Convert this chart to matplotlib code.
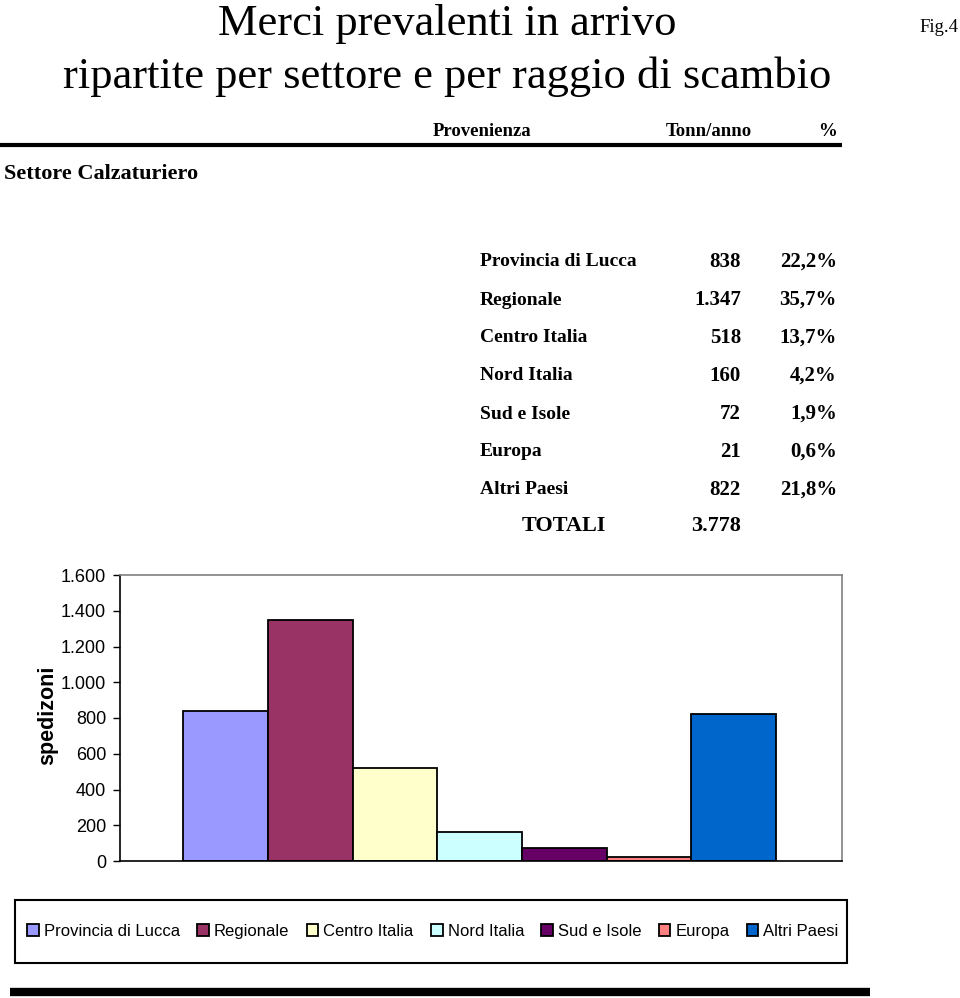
import matplotlib.pyplot as plt
from matplotlib.lines import Line2D
from matplotlib.patches import Rectangle
from matplotlib.ticker import FuncFormatter

# data
categories = ["Provincia di Lucca", "Regionale", "Centro Italia", "Nord Italia",
              "Sud e Isole", "Europa", "Altri Paesi"]
tonn = [838, 1347, 518, 160, 72, 21, 822]
tonn_labels = ["838", "1.347", "518", "160", "72", "21", "822"]
perc_labels = ["22,2%", "35,7%", "13,7%", "4,2%", "1,9%", "0,6%", "21,8%"]
total_label = "3.778"
y_ticks = [0, 200, 400, 600, 800, 1000, 1200, 1400, 1600]
colors = ["#9999FF", "#993366", "#FFFFCC", "#CCFFFF", "#660066", "#FF8080", "#0066CC"]

W, H = 960, 998
serif = "Liberation Serif"
sans = "Liberation Sans"


def fx(x):
    return x / W


def fy(y):
    return 1 - y / H


fig = plt.figure(figsize=(W / 100, H / 100), dpi=100)

# titles
fig.text(fx(447), fy(35), "Merci prevalenti in arrivo", family=serif, fontsize=32,
         ha="center", va="baseline")
fig.text(fx(447), fy(88), "ripartite per settore e per raggio di scambio", family=serif,
         fontsize=32, ha="center", va="baseline")
fig.text(fx(958), fy(28), "Fig.4", family=serif, fontsize=13.5, ha="right", va="center")

# header
fig.text(fx(482), fy(131), "Provenienza", family=serif, weight="bold", fontsize=13.5,
         ha="center", va="center")
fig.text(fx(709), fy(131), "Tonn/anno", family=serif, weight="bold", fontsize=13.5,
         ha="center", va="center")
fig.text(fx(837), fy(131), "%", family=serif, weight="bold", fontsize=13.5,
         ha="right", va="center")
fig.add_artist(Line2D([0, fx(842)], [fy(145), fy(145)], color="black", lw=3,
                      solid_capstyle="butt"))
fig.text(fx(4), fy(174), "Settore Calzaturiero", family=serif, weight="bold",
         fontsize=16, ha="left", va="center")

# table
row_y = [262, 300, 338, 376, 414, 452, 490]
for name, t, p, y in zip(categories, tonn_labels, perc_labels, row_y):
    fig.text(fx(480), fy(y), name, family=serif, weight="bold", fontsize=14,
             ha="left", va="center")
    fig.text(fx(741), fy(y), t, family=serif, weight="bold", fontsize=15,
             ha="right", va="center")
    fig.text(fx(837), fy(y), p, family=serif, weight="bold", fontsize=15,
             ha="right", va="center")
fig.text(fx(564), fy(526), "TOTALI", family=serif, weight="bold", fontsize=16,
         ha="center", va="center")
fig.text(fx(741), fy(526), total_label, family=serif, weight="bold", fontsize=16,
         ha="right", va="center")

# bar chart
ax = fig.add_axes([fx(120), fy(861), (842 - 120) / W, (861 - 575) / H])
for i, (name, val, col) in enumerate(zip(categories, tonn, colors)):
    ax.bar(i, val, width=1, color=col, edgecolor="black", linewidth=1.3, label=name)

ax.set_xlim(-1.25, 7.28)
ax.set_ylim(0, 1600)
ax.set_yticks(y_ticks)
ax.yaxis.set_major_formatter(FuncFormatter(lambda v, _: f"{int(v):,}".replace(",", ".")))
ax.set_xticks([])
ax.tick_params(axis="y", length=5, width=1, direction="out", pad=5)
for lab in ax.get_yticklabels():
    lab.set_family(sans)
    lab.set_fontsize(13)
for side in ["left", "bottom"]:
    ax.spines[side].set_color("black")
    ax.spines[side].set_linewidth(1.2)
for side in ["top", "right"]:
    ax.spines[side].set_color("#808080")
    ax.spines[side].set_linewidth(1.2)
fig.text(fx(48), fy(715), "spedizoni", family=sans, weight="bold", fontsize=15.5,
         rotation=90, ha="center", va="center")

# legend (frame drawn separately so it can be taller than the entries)
fig.add_artist(Rectangle((fx(15), fy(963)), (847 - 15) / W, (963 - 900) / H,
                         transform=fig.transFigure, facecolor="white",
                         edgecolor="black", linewidth=1.5, zorder=1))
handles, labels = ax.get_legend_handles_labels()
leg = fig.legend(handles, labels, loc="center", ncol=7, mode="expand",
                 bbox_to_anchor=(fx(24), fy(963), (842 - 24) / W, (963 - 900) / H),
                 borderaxespad=0, borderpad=0.2, frameon=False,
                 handlelength=0.7, handleheight=0.7, handletextpad=0.3,
                 columnspacing=1.0, prop={"family": sans, "size": 12})
leg.set_zorder(2)

# bottom rule
fig.add_artist(Line2D([fx(10), fx(870)], [fy(992), fy(992)], color="black", lw=6,
                      solid_capstyle="butt"))

fig.savefig("out.png", dpi=100)
